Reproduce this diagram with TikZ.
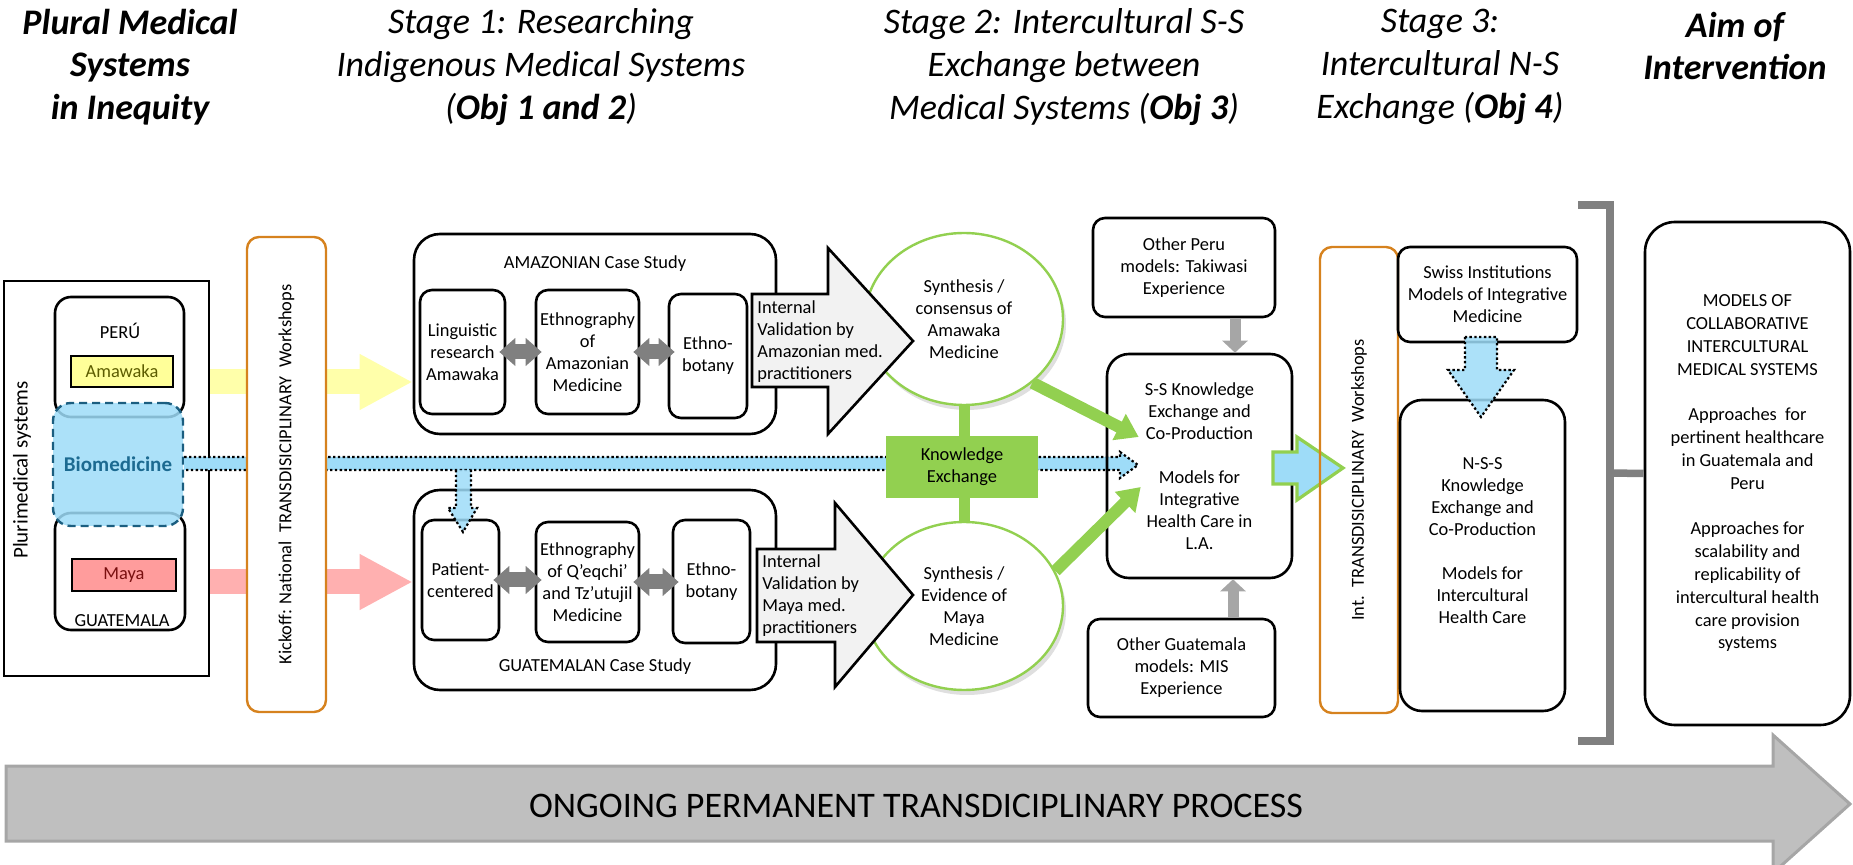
\documentclass[tikz,border=0pt]{standalone}
\usepackage{fontspec}
\setmainfont{Carlito}
\usetikzlibrary{arrows.meta,calc,shadows,shapes.geometric}

\definecolor{amayellow}{HTML}{FFFF99}
\definecolor{amatext}{HTML}{5C5C00}
\definecolor{arrowyellow}{HTML}{FFFFAA}
\definecolor{mayafill}{HTML}{FF9C9C}
\definecolor{mayatext}{HTML}{7A1010}
\definecolor{arrowpink}{HTML}{FFB0B0}
\definecolor{biofill}{HTML}{9EDCF8}
\definecolor{biodark}{HTML}{1B5E80}
\definecolor{biotext}{HTML}{1C6A91}
\definecolor{kgreen}{HTML}{92D050}
\definecolor{workorange}{HTML}{D6821E}
\definecolor{arrowgray}{HTML}{808080}
\definecolor{lightgray}{HTML}{A6A6A6}
\definecolor{valfill}{HTML}{F2F2F2}
\definecolor{procfill}{HTML}{BFBFBF}

\newcommand{\bodysize}{\fontsize{9.2}{11}\selectfont}
\newcommand{\headsize}{\fontsize{18}{21.3}\selectfont}

\begin{document}
\begin{tikzpicture}[x=0.5pt, y=-0.5pt,
    txt/.style={align=center, inner sep=0pt, font=\bodysize},
    head/.style={align=center, inner sep=0pt, font=\headsize\itshape},
    box/.style={txt, draw, line width=1.3pt, rounded corners=6pt},
    bigbox/.style={box, rounded corners=13pt},
    tag/.style={txt, draw, line width=1.3pt},
    workshop/.style={txt, draw=workorange, line width=1.2pt, rounded corners=6pt},
    synth/.style={txt, ellipse, draw=kgreen, line width=1.2pt, fill=white,
        drop shadow={shadow xshift=1.5pt, shadow yshift=-2.5pt, opacity=0.25}},
    flowarr/.style={line width=12.5pt, -{Triangle[width=26pt,length=26.5pt]}},
    dblarr/.style={arrowgray, line width=7.5pt,
        {Triangle[width=13.5pt,length=8pt]}-{Triangle[width=13.5pt,length=8pt]},
        shorten <=-3.5pt, shorten >=-3.5pt},
    grnarr/.style={kgreen, line width=6pt, -{Triangle[width=14pt,length=11pt]}},
    gryarr/.style={lightgray, line width=5.5pt, -{Triangle[width=12.5pt,length=6pt]}},
    kbar/.style={kgreen, line width=5.5pt},
    valarrow/.style={fill=valfill, draw=black, line width=1.3pt},
    dotarrow/.style={fill=biofill, fill opacity=0.85, draw=black, line width=1.1pt,
        dash pattern=on 1.2pt off 1.2pt},
    bracket/.style={arrowgray, line width=3.75pt}]

    \useasboundingbox (0,0) rectangle (1853,865);

    \filldraw[fill=procfill, draw=lightgray, line width=1.5pt] (6,766) -- (1773,766) -- (1773,735)
        -- (1850,804) -- (1773,873) -- (1773,841) -- (6,841) -- cycle;
    \node[font=\fontsize{18}{20}\selectfont] (process) at (916,806) {ONGOING PERMANENT TRANSDICIPLINARY PROCESS};

    \node[head, font=\headsize\bfseries\itshape] (hplural) at (130,67) {Plural Medical\\Systems\\in Inequity};
    \node[head] (hstage1) at (541,67) {Stage 1: Researching\\Indigenous Medical Systems\\(\textbf{Obj 1 and 2})};
    \node[head] (hstage2) at (1064,67) {Stage 2: Intercultural S-S\\Exchange between\\Medical Systems (\textbf{Obj 3})};
    \node[head] (hstage3) at (1440,67) {Stage 3:\\Intercultural N-S\\Exchange (\textbf{Obj 4})};
    \node[head, font=\headsize\bfseries\itshape] (haim) at (1735,46) {Aim of\\Intervention};

    \node[draw, line width=1.3pt, minimum width=102.5pt, minimum height=197.5pt] (plural) at (106.5,478.5) {};
    \node[txt, font=\fontsize{10.5}{12}\selectfont, rotate=90] (plurlabel) at (22,470) {Plurimedical systems};

    \node[box, rounded corners=8pt, minimum width=64.5pt, minimum height=60pt] (peru) at (119.5,357) {};
    \node[txt] (perulabel) at (120,331) {PERÚ};
    \node[tag, fill=amayellow, text=amatext, minimum width=51pt, minimum height=15.5pt] (amawaka) at (122,371.5) {Amawaka};

    \node[box, rounded corners=8pt, minimum width=65pt, minimum height=58.5pt] (guate) at (120,571.5) {};
    \node[tag, fill=mayafill, text=mayatext, minimum width=52pt, minimum height=16pt] (maya) at (124,575) {Maya};
    \node[txt] (guatelabel) at (122,621) {GUATEMALA};

    \node[txt, draw=biodark, fill=biofill, fill opacity=0.85, text opacity=1, line width=1.2pt,
        dash pattern=on 4pt off 2.5pt, rounded corners=9pt, minimum width=65pt, minimum height=61.5pt,
        text=biotext, font=\fontsize{10.5}{12}\selectfont\bfseries] (biomed) at (118,464.5) {Biomedicine};

    \node[bigbox, minimum width=181pt, minimum height=100pt] (amaz) at (595,334) {};
    \node[txt] (amaztitle) at (595,264) {AMAZONIAN Case Study};
    \node[box, minimum width=42.5pt, minimum height=62pt] (ling) at (462.5,352) {Linguistic\\research\\Amawaka};
    \node[box, minimum width=51.5pt, minimum height=62pt] (ethA) at (587.5,352) {Ethnography\\of\\Amazonian\\Medicine};
    \node[box, minimum width=39pt, minimum height=62pt] (botA) at (708,356) {Ethno-\\botany};

    \node[bigbox, minimum width=181pt, minimum height=100pt] (guat) at (595,590) {};
    \node[txt] (guattitle) at (595,667) {GUATEMALAN Case Study};
    \node[box, minimum width=38.5pt, minimum height=60pt] (pat) at (460.5,580) {Patient-\\centered};
    \node[box, minimum width=51.5pt, minimum height=60pt] (ethG) at (587.5,582) {Ethnography\\of Q’eqchi’\\and Tz’utujil\\Medicine};
    \node[box, minimum width=38.5pt, minimum height=61.5pt] (botG) at (711.5,581.5) {Ethno-\\botany};

    \draw[flowarr, arrowyellow] (plural.east |- 0,382) -- (amaz.west |- 0,382);
    \draw[flowarr, arrowpink] (plural.east |- 0,582) -- (guat.west |- 0,582);

    \path[fill=biofill, draw=black, line width=1.1pt, dash pattern=on 1.2pt off 1.2pt]
        (biomed.east |- 0,457) -- (1120,457) -- (1120,452) -- (1138,465) -- (1120,478) -- (1120,470) -- (biomed.east |- 0,470);
    \filldraw[dotarrow] (456,470) -- (456,508) -- (448,508) -- (463,532) -- (477,508) -- (471,508) -- (471,470);

    \node[workshop, fill=white, rotate=90, minimum width=237.5pt, minimum height=39.5pt] (kickoff) at (286.5,474.5) {Kickoff: National\ \ TRANSDISICIPLINARY\ \ Workshops};

    \draw[dblarr] (ling.east) -- (ethA.west);
    \draw[dblarr] (ethA.east) -- (botA.west |- ethA.east);
    \draw[dblarr] (pat.east) -- (ethG.west |- pat.east);
    \draw[dblarr] (ethG.east) -- (botG.west |- ethG.east);

    \node[synth, minimum width=99pt, minimum height=86pt] (synA) at (964,319) {Synthesis /\\consensus of\\Amawaka\\Medicine};
    \node[synth, minimum width=99pt, minimum height=84pt] (synG) at (964,606) {Synthesis /\\Evidence of\\Maya\\Medicine};
    \draw[kbar] (synA.south) -- (synG.north);
    \node[txt, fill=kgreen, minimum width=76pt, minimum height=31pt] (know) at (962,467) {Knowledge\\Exchange};

    \filldraw[valarrow] (752,294) -- (828,294) -- (828,248) -- (913,341) -- (828,434) -- (828,387) -- (752,387) -- cycle;
    \node[txt, align=left, anchor=west] (valA) at (757,342) {Internal\\Validation by\\Amazonian med.\\practitioners};
    \filldraw[valarrow] (757,549) -- (835,549) -- (835,503) -- (913,595) -- (835,687) -- (835,642) -- (757,642) -- cycle;
    \node[txt, align=left, anchor=west] (valG) at (762,596) {Internal\\Validation by\\Maya med.\\practitioners};

    \node[box, minimum width=91pt, minimum height=49.5pt] (opm) at (1184,267.5) {Other Peru\\models: Takiwasi\\Experience};
    \node[box, rounded corners=11pt, minimum width=92.5pt, minimum height=112pt] (ss) at (1199.5,466) {S-S Knowledge\\Exchange and\\Co-Production\\[11pt]Models for\\Integrative\\Health Care in\\L.A.};
    \node[box, minimum width=93.5pt, minimum height=49pt] (ogm) at (1181.5,668) {Other Guatemala\\models: MIS\\Experience};

    \draw[gryarr] ([xshift=25.5pt]opm.south) -- ([xshift=25.5pt]opm.south |- ss.north);
    \draw[gryarr] ([xshift=25.75pt]ogm.north) -- ([xshift=25.75pt]ogm.north |- ss.south);

    \draw[grnarr] (synA.-43) -- ($(ss.west)+(33,-29)$);
    \draw[grnarr] (synG.21) -- ($(ss.west)+(35,21)$);

    \filldraw[fill=biofill, draw=kgreen, line width=1.6pt] (1273,452) -- (1297,452) -- (1297,437) -- (1343,468)
        -- (1297,500) -- (1297,484) -- (1273,484) -- cycle;

    \node[workshop, rotate=90, minimum width=233pt, minimum height=39pt] (intws) at (1359,480) {Int.\ \ TRANSDISICIPLINARY\ \ Workshops};
    \node[box, minimum width=89.5pt, minimum height=47.5pt] (swiss) at (1487.5,294.5) {Swiss Institutions\\Models of Integrative\\Medicine};
    \node[box, rounded corners=11pt, minimum width=82.5pt, minimum height=155.5pt] (nss) at (1482.5,555.5) {};
    \node[txt] (nsstext) at (1482.5,541) {N-S-S\\Knowledge\\Exchange and\\Co-Production\\[11pt]Models for\\Intercultural\\Health Care};
    \filldraw[dotarrow] (1465,337) -- (1465,370) -- (1448,370) -- (1481,417) -- (1514,370) -- (1497,370) -- (1497,337) -- cycle;

    \node[box, rounded corners=15pt, minimum width=102.5pt, minimum height=251.5pt, font=\fontsize{9.2}{11.4}\selectfont] (models) at (1747.5,473.5) {MODELS OF\\COLLABORATIVE\\INTERCULTURAL\\MEDICAL SYSTEMS\\[11.4pt]Approaches\ \ for\\pertinent healthcare\\in Guatemala and\\Peru\\[11.4pt]Approaches for\\scalability and\\replicability of\\intercultural health\\care provision\\systems};

    \draw[bracket] (1578,205) -- (1610,205) -- (1610,741) -- (1578,741);
    \coordinate (brmid) at (1610,473);
    \draw[bracket] (brmid) -- (models.west);

\end{tikzpicture}
\end{document}
